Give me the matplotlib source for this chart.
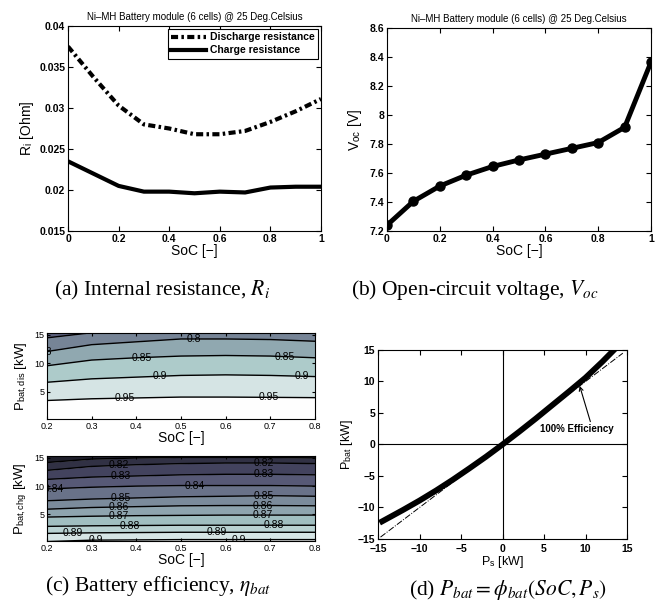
import numpy as np
import matplotlib
matplotlib.use("Agg")
import matplotlib.pyplot as plt
from matplotlib import colors

plt.rcParams['font.family'] = ['Liberation Sans', 'DejaVu Sans']
plt.rcParams['mathtext.fontset'] = 'stix'
plt.rcParams['xtick.direction'] = 'in'
plt.rcParams['ytick.direction'] = 'in'
plt.rcParams['xtick.top'] = True
plt.rcParams['ytick.right'] = True
plt.rcParams['axes.linewidth'] = 0.8

# (a) internal resistance vs SoC
soc = [0.0, 0.1, 0.2, 0.3, 0.4, 0.5, 0.6, 0.7, 0.8, 0.9, 1.0]
r_dis = [0.0375, 0.0338, 0.0303, 0.0280, 0.0275, 0.0268, 0.0268, 0.0272, 0.0283, 0.0296, 0.0311]
r_chg = [0.0235, 0.0220, 0.0205, 0.0198, 0.0198, 0.0196, 0.0198, 0.0197, 0.0203, 0.0204, 0.0204]

# (b) open circuit voltage
voc = [7.24, 7.405, 7.51, 7.585, 7.645, 7.69, 7.73, 7.77, 7.81, 7.915, 8.365]

# (c) efficiency maps: P [kW] of each contour line at each SoC
soc_map = [0.2, 0.3, 0.4, 0.5, 0.6, 0.7, 0.8]
dis_levels = [0.75, 0.80, 0.85, 0.90, 0.95]
dis_lines = [
    [14.5, 15.4, 16.0, 16.4, 16.4, 16.3, 16.1],
    [12.1, 13.3, 13.8, 14.3, 14.3, 14.2, 13.9],
    [9.6, 10.6, 11.0, 11.3, 11.4, 11.3, 11.0],
    [6.7, 7.3, 7.6, 7.9, 8.0, 7.9, 7.7],
    [3.5, 3.8, 3.95, 4.1, 4.1, 4.05, 4.0],
]
chg_levels = [0.81, 0.82, 0.83, 0.84, 0.85, 0.86, 0.87, 0.88, 0.89, 0.90]
chg_lines = [
    [14.2, 14.8, 15.0, 15.1, 15.1, 15.1, 15.0],
    [12.8, 13.5, 13.8, 14.0, 14.1, 14.1, 14.0],
    [11.2, 11.6, 11.8, 12.0, 12.1, 12.1, 12.0],
    [9.5, 9.8, 10.0, 10.1, 10.1, 10.1, 10.0],
    [7.4, 7.7, 7.9, 8.1, 8.2, 8.3, 8.2],
    [5.9, 6.2, 6.35, 6.5, 6.55, 6.55, 6.5],
    [4.5, 4.65, 4.75, 4.8, 4.85, 4.85, 4.85],
    [2.85, 2.95, 3.0, 3.05, 3.05, 3.05, 3.05],
    [1.6, 1.7, 1.75, 1.8, 1.8, 1.8, 1.8],
    [0.15, 0.4, 0.45, 0.5, 0.5, 0.5, 0.5],
]

# (d) battery power vs terminal power
ps = [-14.5, -12, -10, -8, -6, -4, -2, 0, 2, 4, 6, 8, 10, 12, 13.5]
pbat = [-12.2, -10.4, -8.9, -7.3, -5.6, -3.8, -1.95, 0, 2.02, 4.1, 6.25, 8.4, 10.6, 13.1, 15.1]
ideal = [-14.7, 14.5]

title = 'Ni\u2013MH Battery module (6 cells) @ 25 Deg.Celsius'
W, H = 670, 614
dashdot = (0, (1.7, 0.8, 0.6, 0.8))


def box(l, t, r, b):
    return [l / W, 1 - b / H, (r - l) / W, (b - t) / H]


fig = plt.figure(figsize=(6.7, 6.14), dpi=100)

# ---- (a)
ax = fig.add_axes(box(68, 26, 321, 231))
ax.plot(soc, r_dis, color='k', ls=dashdot, lw=3, label='Discharge resistance')
ax.plot(soc, r_chg, 'k-', lw=3, label='Charge resistance')
ax.set_xlim(0, 1)
ax.set_ylim(0.015, 0.04)
ax.set_xticks([0, 0.2, 0.4, 0.6, 0.8, 1])
ax.set_xticklabels(['0', '0.2', '0.4', '0.6', '0.8', '1'])
ax.set_yticks([0.015, 0.02, 0.025, 0.03, 0.035, 0.04])
ax.set_yticklabels(['0.015', '0.02', '0.025', '0.03', '0.035', '0.04'])
ax.tick_params(labelsize=7.5, pad=2)
for t in ax.get_xticklabels() + ax.get_yticklabels():
    t.set_fontweight('bold')
ax.set_xlabel('SoC [\u2212]', fontsize=10, labelpad=0)
ax.set_ylabel(r'R$_\mathregular{i}$ [Ohm]', fontsize=10, labelpad=2)
ax.set_title(title, fontsize=7, pad=4)
leg = ax.legend(loc='upper right', prop={'weight': 'bold', 'size': 7.5}, fancybox=False,
                edgecolor='k', framealpha=1, handlelength=3.3, borderaxespad=0.3,
                borderpad=0.3, labelspacing=0.3, handletextpad=0.4)
leg.get_frame().set_linewidth(0.8)

# ---- (b)
ax = fig.add_axes(box(387, 28, 651, 231))
ax.plot(soc, voc, 'k-', lw=3.5, marker='o', ms=6.5)
ax.set_xlim(0, 1)
ax.set_ylim(7.2, 8.6)
ax.set_xticks([0, 0.2, 0.4, 0.6, 0.8, 1])
ax.set_xticklabels(['0', '0.2', '0.4', '0.6', '0.8', '1'])
ax.set_yticks([7.2, 7.4, 7.6, 7.8, 8.0, 8.2, 8.4, 8.6])
ax.set_yticklabels(['7.2', '7.4', '7.6', '7.8', '8', '8.2', '8.4', '8.6'])
ax.tick_params(labelsize=7.5, pad=2)
for t in ax.get_xticklabels() + ax.get_yticklabels():
    t.set_fontweight('bold')
ax.set_xlabel('SoC [\u2212]', fontsize=10, labelpad=0)
ax.set_ylabel(r'V$_\mathregular{oc}$ [V]', fontsize=10, labelpad=4)
ax.set_title(title, fontsize=7, pad=4)

# ---- (c) efficiency maps
cmap = plt.get_cmap('bone')


def draw_map(ax, levels, lines, norm, label_soc, ylabel):
    step = levels[1] - levels[0]
    lo = [-1.0] * len(soc_map)
    for lev, row in sorted(zip(levels, lines), reverse=True):
        ax.fill_between(soc_map, lo, row, color=cmap(norm(lev + step / 2)), lw=0)
        lo = row
    ax.fill_between(soc_map, lo, 20, color=cmap(norm(levels[0] - step / 2)), lw=0)
    for lev, row in zip(levels, lines):
        ax.plot(soc_map, row, color='k', lw=1)
        for s in label_soc.get(lev, []):
            ax.text(s, np.interp(s, soc_map, row), ('%.2f' % lev).rstrip('0'),
                    fontsize=7.5, ha='center', va='center', clip_on=True)
    ax.set_xlim(0.2, 0.8)
    ax.set_ylim(0.25, 15.35)
    ax.set_xticks([0.2, 0.3, 0.4, 0.5, 0.6, 0.7, 0.8])
    ax.set_yticks([5, 10, 15])
    ax.tick_params(labelsize=6.5, pad=2, length=2.5)
    ax.set_xlabel('SoC [\u2212]', fontsize=10, labelpad=0)
    ax.set_ylabel(ylabel, fontsize=9.5, labelpad=3.5)


ax = fig.add_axes(box(47, 333, 315, 419))
draw_map(ax, dis_levels, dis_lines, colors.Normalize(0.548, 0.977),
         {0.80: [0.195, 0.528], 0.85: [0.412, 0.733], 0.90: [0.453, 0.77],
          0.95: [0.375, 0.696]},
         r'P$_\mathregular{bat,dis}$ [kW]')

ax = fig.add_axes(box(47, 456, 315, 541))
draw_map(ax, chg_levels, chg_lines, colors.Normalize(0.788, 0.9095),
         {0.82: [0.36, 0.685], 0.83: [0.364, 0.686], 0.84: [0.216, 0.53],
          0.85: [0.364, 0.686], 0.86: [0.36, 0.683], 0.87: [0.36, 0.683],
          0.88: [0.386, 0.707], 0.89: [0.258, 0.58], 0.90: [0.31, 0.63]},
         r'P$_\mathregular{bat,chg}$ [kW]')

# ---- (d)
ax = fig.add_axes(box(378, 350, 627, 539))
ax.axhline(0, color='k', lw=0.8)
ax.axvline(0, color='k', lw=0.8)
ax.plot(ideal, ideal, 'k-.', lw=0.7)
ax.plot(ps, pbat, 'k-', lw=4.2)
ax.annotate('100% Efficiency', xy=(9.3, 9.3), xytext=(9.0, 2.4),
            fontsize=7, fontweight='bold', ha='center', va='center',
            arrowprops=dict(arrowstyle='->', lw=0.8, color='k', relpos=(0.69, 1.0),
                            shrinkA=0, shrinkB=0))
ax.set_xlim(-15, 15)
ax.set_ylim(-15, 15)
ax.set_xticks(range(-15, 16, 5))
ax.set_yticks(range(-15, 16, 5))
ax.tick_params(labelsize=7.5, pad=2)
ax.tick_params(axis='x', pad=3.5)
for t in ax.get_xticklabels() + ax.get_yticklabels():
    t.set_fontweight('bold')
ax.set_xlabel(r'P$_\mathregular{s}$ [kW]', fontsize=9, labelpad=0)
ax.set_ylabel(r'P$_\mathregular{bat}$ [kW]', fontsize=9, labelpad=2)

# ---- captions
cap = dict(fontsize=15.5, ha='center', va='center', family='Liberation Serif')
fig.text(162 / W, 1 - 290 / H, r'(a) Internal resistance, $R_i$', **cap)
fig.text(475 / W, 1 - 290 / H, r'(b) Open-circuit voltage, $V_{oc}$', **cap)
fig.text(158 / W, 1 - 586 / H, r'(c) Battery efficiency, $\eta_{bat}$', **cap)
fig.text(508 / W, 1 - 590 / H, r'(d) $P_{bat} = \phi_{bat}(SoC, P_s)$', **cap)

fig.savefig('out.png', dpi=100)
